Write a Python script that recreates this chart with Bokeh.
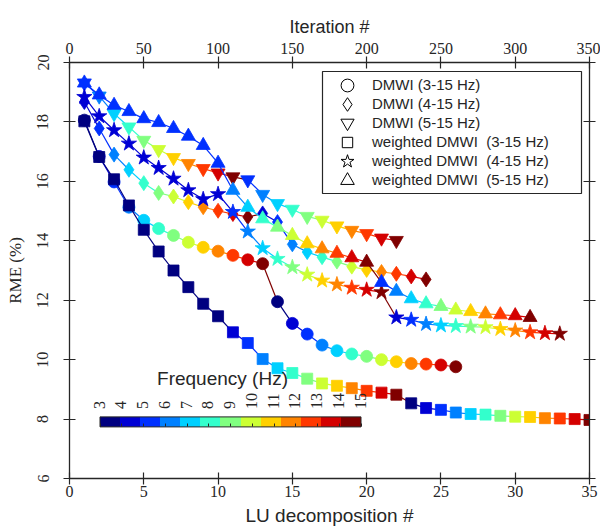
import math
from bokeh.plotting import figure
from bokeh.models import (ColumnDataSource, LinearAxis, Range1d, Legend, LegendItem,
                          LinearColorMapper, ColorBar, Label, FixedTicker, BoxAnnotation)
from bokeh.transform import transform
from bokeh.embed import file_html
from bokeh.resources import INLINE

# ---------------- data ----------------
lu_ticks = [0, 5, 10, 15, 20, 25, 30, 35]
iter_ticks = [0, 50, 100, 150, 200, 250, 300, 350]
rme_ticks = [6, 8, 10, 12, 14, 16, 18, 20]
freq_levels = [3, 4, 5, 6, 7, 8, 9, 10, 11, 12, 13, 14, 15]

# DMWI (3-15 Hz)
rme_dmwi_3 = [18.06, 16.84, 15.98, 15.13, 14.69, 14.41, 14.18, 13.95, 13.78, 13.65, 13.51, 13.36, 13.23,
              11.95, 11.22, 10.86, 10.49, 10.30, 10.19, 10.11, 10.00, 9.93, 9.87, 9.85, 9.82, 9.76]
freq_dmwi_3 = [3, 4, 5, 6, 7, 8, 9, 10, 11, 12, 13, 14, 15,
               3, 4, 5, 6, 7, 8, 9, 10, 11, 12, 13, 14, 15]

# DMWI (4-15 Hz)
rme_dmwi_4 = [18.67, 17.78, 16.90, 16.39, 15.94, 15.61, 15.49, 15.30, 15.13, 15.01, 14.90, 14.80,
              14.92, 14.63, 13.88, 13.62, 13.45, 13.30, 13.13, 13.02, 12.95, 12.89, 12.80, 12.70]
freq_dmwi_4 = [4, 5, 6, 7, 8, 9, 10, 11, 12, 13, 14, 15,
               4, 5, 6, 7, 8, 9, 10, 11, 12, 13, 14, 15]

# DMWI (5-15 Hz)
rme_dmwi_5 = [19.31, 18.87, 18.28, 17.83, 17.38, 17.07, 16.80, 16.60, 16.43, 16.28, 16.15,
              16.05, 15.56, 15.25, 15.06, 14.82, 14.69, 14.50, 14.35, 14.24, 14.09, 14.01]
freq_dmwi_5 = [5, 6, 7, 8, 9, 10, 11, 12, 13, 14, 15,
               5, 6, 7, 8, 9, 10, 11, 12, 13, 14, 15]

# weighted DMWI (3-15 Hz)
rme_w_3 = [18.02, 16.82, 16.07, 15.19, 14.37, 13.64, 13.00, 12.44, 11.88, 11.46,
           10.92, 10.56, 10.02, 9.71, 9.55, 9.36, 9.20, 9.12, 9.04, 8.95, 8.89, 8.82,
           8.53, 8.37, 8.31, 8.22, 8.17, 8.15, 8.11, 8.08, 8.07, 8.03, 8.02, 8.00, 7.97]
freq_w_3 = [3, 3, 3, 3, 3, 3, 3, 3, 3, 3,
            4, 5, 6, 7, 8, 9, 10, 11, 12, 13, 14, 15,
            3, 4, 5, 6, 7, 8, 9, 10, 11, 12, 13, 14, 15]

# weighted DMWI (4-15 Hz)
rme_w_4 = [18.84, 18.19, 17.72, 17.27, 16.80, 16.45, 16.09, 15.70, 15.40, 15.57,
           14.97, 14.31, 13.75, 13.39, 13.11, 12.86, 12.66, 12.53, 12.42, 12.35, 12.27,
           11.42, 11.34, 11.20, 11.15, 11.13, 11.11, 11.09, 11.03, 10.98, 10.92, 10.89, 10.87]
freq_w_4 = [4, 4, 4, 4, 4, 4, 4, 4, 4, 4,
            5, 6, 7, 8, 9, 10, 11, 12, 13, 14, 15,
            4, 5, 6, 7, 8, 9, 10, 11, 12, 13, 14, 15]

# weighted DMWI (5-15 Hz)
rme_w_5 = [19.31, 18.91, 18.56, 18.35, 18.11, 17.98, 17.78, 17.52, 17.21, 16.61,
           15.70, 15.13, 14.74, 14.46, 14.18, 13.90, 13.73, 13.58, 13.43, 13.28,
           12.60, 12.30, 12.05, 11.88, 11.79, 11.67, 11.62, 11.54, 11.51, 11.48, 11.42]
freq_w_5 = [5, 5, 5, 5, 5, 5, 5, 5, 5, 5,
            6, 7, 8, 9, 10, 11, 12, 13, 14, 15,
            5, 6, 7, 8, 9, 10, 11, 12, 13, 14, 15]

series = [
    ("DMWI (3-15 Hz)", "circle", rme_dmwi_3, freq_dmwi_3),
    ("DMWI (4-15 Hz)", "diamond", rme_dmwi_4, freq_dmwi_4),
    ("DMWI (5-15 Hz)", "inverted_triangle", rme_dmwi_5, freq_dmwi_5),
    ("weighted DMWI  (3-15 Hz)", "square", rme_w_3, freq_w_3),
    ("weighted DMWI  (4-15 Hz)", "star", rme_w_4, freq_w_4),
    ("weighted DMWI  (5-15 Hz)", "triangle", rme_w_5, freq_w_5),
]

# ---------------- style ----------------
jet13 = ["#000080", "#0000D4", "#0030FF", "#0080FF", "#00D0FF", "#33FFCC", "#80FF80",
         "#CCFF33", "#FFD000", "#FF8400", "#FF3800", "#D40000", "#800000"]
marker_size = {"circle": 12, "diamond": 15, "inverted_triangle": 14, "square": 11,
               "star": 16, "triangle": 14}
legend_glyph_h = {"circle": 32, "diamond": 34, "inverted_triangle": 33, "square": 26,
                  "star": 34, "triangle": 34}
ink = "#262626"
serif = "Liberation Serif"
sans = "Liberation Sans"

mapper = LinearColorMapper(palette=jet13, low=freq_levels[0], high=freq_levels[-1])

p = figure(width=600, height=530, x_range=Range1d(lu_ticks[0], lu_ticks[-1]),
           y_range=Range1d(rme_ticks[0], rme_ticks[-1]),
           output_backend="svg", toolbar_location=None,
           min_border_left=69, min_border_right=11, min_border_top=62, min_border_bottom=52,
           x_axis_label="LU decomposition #", y_axis_label="RME (%)")
p.xgrid.visible = False
p.ygrid.visible = False
p.outline_line_color = None
p.background_fill_color = "white"
p.border_fill_color = "white"

bottom_axis = p.below[0]
left_axis = p.left[0]

p.extra_x_ranges = {"iter": Range1d(iter_ticks[0], iter_ticks[-1])}
top_axis = LinearAxis(x_range_name="iter", axis_label="Iteration #")
p.add_layout(top_axis, "above")
right_axis = LinearAxis()
p.add_layout(right_axis, "right")

bottom_axis.ticker = FixedTicker(ticks=lu_ticks)
top_axis.ticker = FixedTicker(ticks=iter_ticks)
left_axis.ticker = FixedTicker(ticks=rme_ticks)
right_axis.ticker = FixedTicker(ticks=rme_ticks)

for ax in [bottom_axis, top_axis, left_axis, right_axis]:
    ax.axis_line_color = ink
    ax.axis_line_width = 1.3
    ax.major_tick_line_color = ink
    ax.major_tick_line_width = 1.2
    ax.major_tick_in = 6
    ax.major_tick_out = 6
    ax.minor_tick_line_color = None
    ax.major_label_text_font = serif
    ax.major_label_text_font_size = "16px"
    ax.major_label_text_color = ink
    ax.axis_label_text_font = sans
    ax.axis_label_text_font_style = "normal"
    ax.axis_label_text_font_size = "18px"
    ax.axis_label_text_color = ink

right_axis.major_label_overrides = {t: "" for t in rme_ticks}
right_axis.major_label_standoff = 0
left_axis.major_label_orientation = "vertical"
left_axis.major_label_standoff = 15
left_axis.axis_label_text_font = serif
left_axis.axis_label_text_font_size = "17px"
left_axis.axis_label_standoff = 10
bottom_axis.major_label_standoff = 1
bottom_axis.axis_label_standoff = 5
bottom_axis.axis_label_text_font_size = "19px"
top_axis.major_label_standoff = 3
top_axis.axis_label_standoff = 3

# ---------------- series ----------------
for label, marker, rme, freq in series:
    lu = list(range(1, len(rme) + 1))
    seg = ColumnDataSource(dict(x0=lu[:-1], y0=rme[:-1], x1=lu[1:], y1=rme[1:], f=freq[:-1]))
    p.segment("x0", "y0", "x1", "y1", source=seg,
              line_color=transform("f", mapper), line_width=1.2)
    src = ColumnDataSource(dict(x=lu, y=rme, f=freq))
    p.scatter("x", "y", source=src, marker=marker, size=marker_size[marker],
              fill_color=transform("f", mapper), line_color=transform("f", mapper),
              line_width=0.8)

# ---------------- legend ----------------
# frame-relative pixel layout of the legend box
lg_left, lg_right, lg_bottom, lg_top = 253, 512, 285, 407
row_pitch = 19
p.add_layout(BoxAnnotation(left=lg_left, right=lg_right, bottom=lg_bottom, top=lg_top,
                           left_units="screen", right_units="screen",
                           bottom_units="screen", top_units="screen",
                           fill_color="white", fill_alpha=1,
                           line_color=ink, line_width=1.2, line_alpha=1))
first_center = lg_top - (lg_top - lg_bottom - row_pitch * (len(series) - 1)) / 2
for i, (label, marker, rme, freq) in enumerate(series):
    gh = legend_glyph_h[marker]
    r = p.scatter(x=[float("nan")], y=[float("nan")], marker=marker, fill_color="white",
                  line_color="black", line_width=1)
    lg = Legend(items=[LegendItem(label=label, renderers=[r])],
                location=(lg_left, first_center - i * row_pitch - gh / 2),
                glyph_width=50, glyph_height=gh, label_height=gh,
                spacing=0, padding=0, margin=0, label_standoff=0,
                border_line_color=None, background_fill_alpha=0,
                label_text_font=sans, label_text_font_size="15px", label_text_color=ink)
    p.add_layout(lg)

# ---------------- colour bar ----------------
cb_left, cb_bottom, cb_w, cb_h = 30.5, 51.6, 261, 10
cb = ColorBar(color_mapper=mapper, orientation="horizontal", location=(cb_left, cb_bottom),
              width=cb_w, height=cb_h, padding=0, margin=0,
              ticker=FixedTicker(ticks=freq_levels),
              major_label_overrides={f: "" for f in freq_levels}, label_standoff=0,
              major_tick_in=3, major_tick_out=0, major_tick_line_color=ink,
              bar_line_color=ink, bar_line_width=1,
              background_fill_alpha=0, border_line_color=None)
p.add_layout(cb)

span = freq_levels[-1] - freq_levels[0]
for f in freq_levels:
    p.add_layout(Label(x=cb_left + (f - freq_levels[0]) / span * cb_w - 1, y=cb_bottom + cb_h + 8,
                       x_units="screen", y_units="screen", text=str(f), angle=math.pi / 2,
                       text_align="left", text_baseline="middle",
                       text_font=serif, text_font_size="16px", text_color=ink))

p.add_layout(Label(x=cb_left + cb_w / 2 - 8, y=99.6, x_units="screen", y_units="screen",
                   text="Frequency (Hz)", text_align="center", text_baseline="alphabetic",
                   text_font=sans, text_font_size="19px", text_color=ink))

open("out.html", "w").write(file_html(p, INLINE))
